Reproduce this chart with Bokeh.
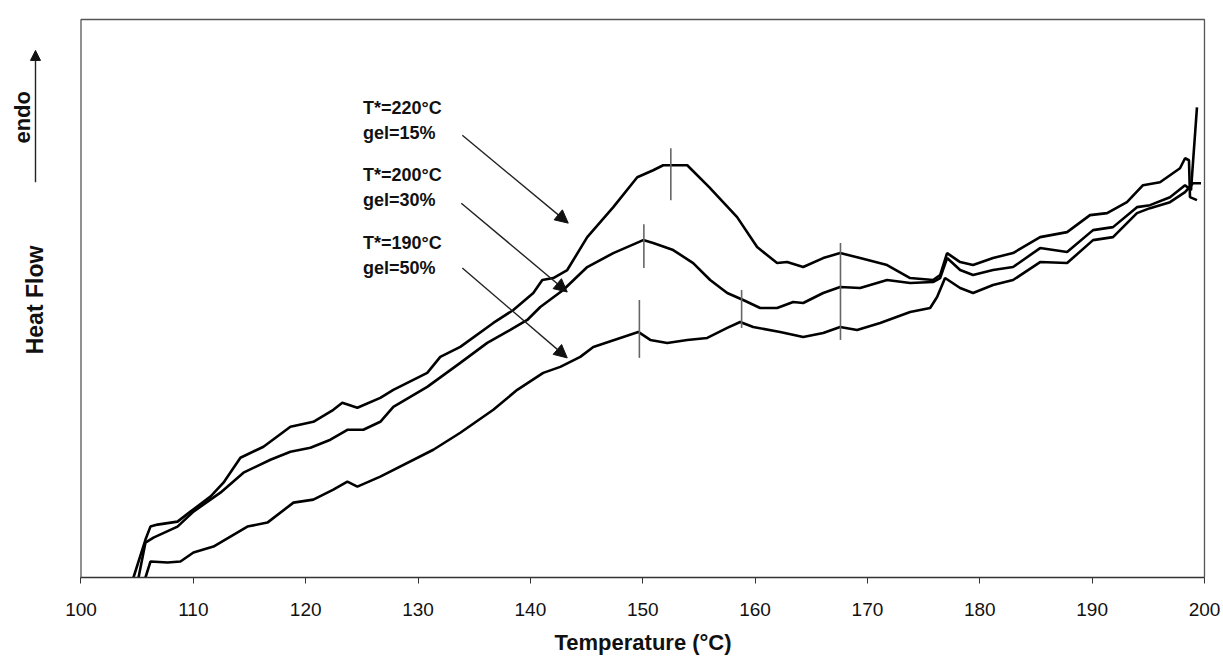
from bokeh.plotting import figure
from bokeh.models import Range1d, FixedTicker, Label, Arrow, NormalHead, Title
from bokeh.embed import file_html
from bokeh.resources import INLINE

# ---- data (heat flow in arbitrary units) ----
t_220 = [104.5, 104.67, 105.74, 106.18, 106.81, 108.59, 109.74, 111.52, 112.68, 114.19, 116.24,
         118.64, 120.68, 122.46, 123.26, 124.60, 126.64, 127.80, 130.82, 131.98, 133.76, 136.70,
         138.48, 140.26, 141.06, 142.04, 143.28, 145.06, 147.38, 149.51, 150.93, 151.82, 153.96,
         155.91, 158.40, 160.18, 161.96, 162.85, 164.28, 166.06, 167.57, 169.35, 171.75, 173.80,
         175.84, 176.47, 177.09, 178.25, 179.40, 181.18, 182.96, 185.37, 187.77, 189.81, 191.33,
         193.10, 194.53, 196.04, 197.82, 198.27, 198.62, 198.71, 199.33]
h_220 = [-10, 0, 38, 51, 53, 56, 66, 81, 95, 120, 131,
         151, 156, 168, 175, 170, 180, 188, 205, 221, 231, 255,
         268, 285, 298, 300, 308, 341, 371, 401, 408, 413, 413,
         391, 361, 331, 315, 316, 311, 320, 325, 320, 313, 300,
         298, 303, 325, 316, 313, 320, 325, 341, 346, 363, 365,
         376, 393, 396, 410, 420, 418, 381, 378]

t_200 = [105.03, 105.12, 105.74, 106.45, 108.59, 110.01, 111.52, 112.41, 114.46, 116.86, 118.64,
         120.42, 122.20, 123.71, 125.13, 126.64, 127.80, 130.82, 133.76, 136.16, 138.21, 139.72,
         140.88, 142.92, 145.06, 147.38, 150.04, 150.93, 152.71, 154.49, 156.00, 157.52, 158.94,
         160.45, 161.96, 163.39, 164.28, 166.06, 167.57, 169.35, 171.75, 173.80, 175.84, 176.47,
         177.09, 178.25, 179.40, 181.18, 182.96, 185.37, 187.77, 190.08, 191.86, 193.99, 195.15,
         196.93, 198.27, 198.80, 199.33]
h_200 = [-12, 0, 35, 40, 51, 66, 78, 85, 105, 118, 126,
         130, 138, 148, 148, 156, 171, 191, 215, 235, 248, 258,
         271, 288, 311, 325, 338, 335, 328, 315, 298, 285, 278,
         270, 270, 276, 275, 285, 291, 290, 298, 295, 296, 300,
         320, 308, 303, 308, 311, 330, 326, 348, 351, 371, 373,
         381, 393, 388, 471]

t_190 = [105.57, 105.74, 106.18, 107.70, 108.85, 110.01, 111.79, 114.81, 116.59, 118.91, 120.68,
         122.46, 123.71, 124.60, 126.64, 131.36, 133.76, 136.70, 138.83, 141.14, 142.66, 144.44,
         145.60, 148.00, 149.60, 150.67, 152.18, 153.96, 155.74, 157.52, 158.67, 159.83, 162.23,
         164.28, 166.06, 167.57, 169.08, 171.13, 173.80, 175.58, 176.20, 176.91, 178.25, 179.40,
         181.18, 182.96, 185.37, 187.77, 190.08, 191.86, 193.99, 195.15, 196.93, 198.27, 198.98,
         199.69]
h_190 = [-12, 0, 16, 15, 16, 25, 31, 51, 55, 75, 78,
         88, 96, 91, 101, 128, 145, 168, 188, 205, 211, 221,
         231, 240, 246, 238, 235, 238, 240, 250, 256, 251, 246,
         241, 245, 251, 248, 255, 266, 270, 281, 300, 290, 285,
         293, 298, 316, 315, 338, 341, 365, 370, 376, 386, 395,
         395]

# peak / transition markers (temperature, low, high)
mark_t = [152.5, 150.1, 149.7, 158.8, 167.6]
mark_lo = [378, 310, 220, 250, 238]
mark_hi = [430, 354, 278, 288, 335]

# annotations
ann_lines = [["T*=220°C", "gel=15%"], ["T*=200°C", "gel=30%"], ["T*=190°C", "gel=50%"]]
ann_y = [[470, 445], [403, 378], [335, 310]]
ann_x = 125.1
arrow_start = [(133.94, 443), (133.85, 375), (133.94, 310)]
arrow_end = [(143.37, 355), (143.28, 286), (143.28, 220)]

x_ticks = [100, 110, 120, 130, 140, 150, 160, 170, 180, 190, 200]
x_min, x_max = 100, 200
y_top = 559

FONT = "Liberation Sans"

p = figure(width=1223, height=663, x_range=Range1d(92.835, 200.98), y_range=Range1d(0, 563),
           output_backend="svg", toolbar_location=None, y_axis_location=None,
           min_border_left=0, min_border_right=8, min_border_top=15, min_border_bottom=85)
p.background_fill_color = "white"
p.border_fill_color = "white"
p.outline_line_color = None
p.xgrid.visible = False
p.ygrid.visible = False

ax = p.xaxis[0]
ax.ticker = FixedTicker(ticks=x_ticks)
ax.bounds = (x_min, x_max)
ax.axis_line_color = "#333333"
ax.axis_line_width = 1.5
ax.major_tick_line_color = "#333333"
ax.major_tick_in = 0
ax.major_tick_out = 6
ax.minor_tick_line_color = None
ax.major_label_text_font = FONT
ax.major_label_text_font_size = "19px"
ax.major_label_text_color = "#111111"
ax.major_label_standoff = 19

# x-axis title, placed under the plotted box (not the wider frame)
p.add_layout(Title(text="Temperature (°C)", align="left", offset=554, text_font=FONT,
                   text_font_style="bold", text_font_size="22px", text_color="#111111",
                   standoff=18), "below")

# plot box (left, top, right edges)
p.line([x_min, x_min, x_max, x_max], [0, y_top, y_top, 0], line_color="#555555", line_width=1.3)

# curves
for t, h in [(t_220, h_220), (t_200, h_200), (t_190, h_190)]:
    p.line(t, h, line_color="black", line_width=2.6)

# markers
p.segment(x0=mark_t, y0=mark_lo, x1=mark_t, y1=mark_hi, line_color="#666666", line_width=1.6)

# annotation text and arrows
for lines, ys in zip(ann_lines, ann_y):
    for txt, yy in zip(lines, ys):
        p.add_layout(Label(x=ann_x, y=yy, text=txt, text_font=FONT, text_font_style="bold",
                           text_font_size="18px", text_baseline="middle", text_color="#111111"))
for (x0, y0), (x1, y1) in zip(arrow_start, arrow_end):
    p.add_layout(Arrow(x_start=x0, y_start=y0, x_end=x1, y_end=y1, line_color="#222222",
                       line_width=1.4,
                       end=NormalHead(size=13, fill_color="#111111", line_color="#111111")))

# y-axis labels (custom, inside the extended frame)
p.add_layout(Label(x=95.95, y=278, text="Heat Flow", angle=1.5708, text_font=FONT,
                   text_font_style="bold", text_font_size="23px", text_align="center",
                   text_baseline="middle", text_color="#111111"))
p.add_layout(Label(x=94.8, y=461, text="endo", angle=1.5708, text_font=FONT,
                   text_font_style="bold", text_font_size="22px", text_align="center",
                   text_baseline="middle", text_color="#111111"))
p.add_layout(Arrow(x_start=95.95, y_start=396, x_end=95.95, y_end=528, line_color="#222222",
                   line_width=1.4, end=NormalHead(size=10, fill_color="#111111", line_color="#111111")))

open("out.html", "w").write(file_html(p, INLINE))
